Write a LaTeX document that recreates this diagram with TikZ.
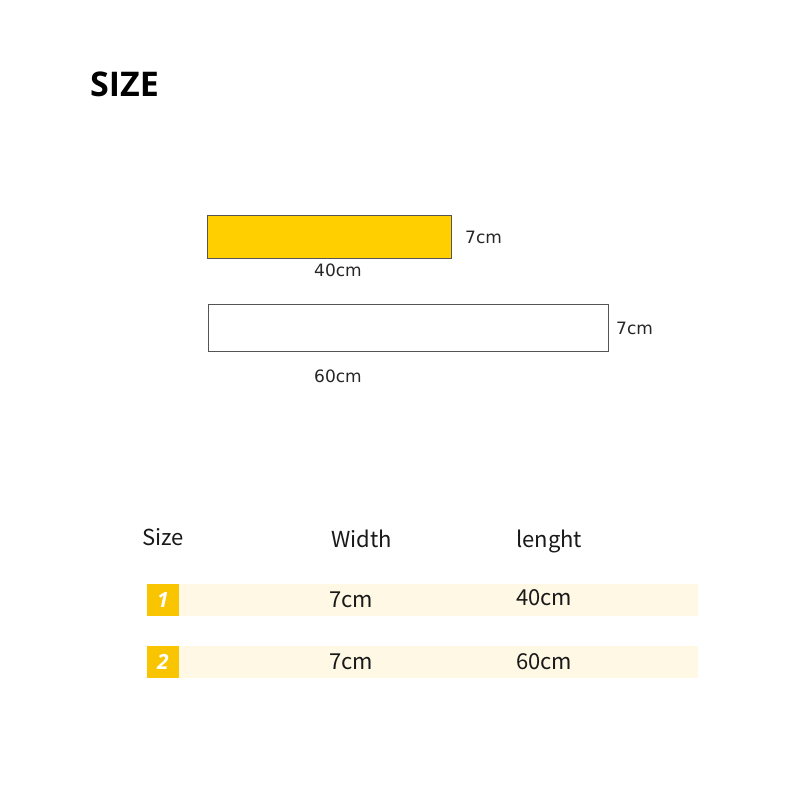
\documentclass[tikz,border=0pt]{standalone}
\usepackage{fontspec}
\setmainfont{Noto Sans CJK SC}
\newfontfamily\titlefont{Open Sans}
\newfontfamily\labelfont{DejaVu Sans}
\definecolor{barY}{HTML}{FFCF00}
\definecolor{badgeY}{HTML}{F9C400}
\definecolor{cream}{HTML}{FFF8E4}
\definecolor{edge}{HTML}{555555}
\begin{document}
\begin{tikzpicture}[x=1pt,y=-1pt,
  lbl/.style={font=\labelfont\fontsize{17}{19}\selectfont, text=black!85, inner sep=0pt},
  tbl/.style={font=\fontsize{22}{24}\selectfont, text=black!90, inner sep=0pt},
  badge/.style={fill=badgeY, minimum width=32pt, minimum height=32pt, inner sep=0pt, text=white, font=\titlefont\fontsize{21}{23}\selectfont\bfseries\itshape},
  band/.style={fill=cream, draw=none}]
\useasboundingbox (0,0) rectangle (800,800);
\fill[white] (0,0) rectangle (800,800);
\node[anchor=west, inner sep=0pt, font=\titlefont\fontsize{34}{40}\selectfont\bfseries] (title) at (90,84) {SIZE};
% rectangles
\draw[edge, fill=barY, line width=0.8pt] (207,215) rectangle (451,258);
\node[lbl, anchor=west] (h1) at (465,237) {7cm};
\node[lbl] (w1) at (338,270) {40cm};
\draw[edge, fill=white, line width=0.8pt] (208,304) rectangle (608,351);
\node[lbl, anchor=west] (h2) at (616,328) {7cm};
\node[lbl] (w2) at (338,376) {60cm};
% table header
\node[tbl, anchor=west] (hs) at (142,537) {Size};
\node[tbl, anchor=west] (hw) at (331,539) {Width};
\node[tbl, anchor=west] (hl) at (516,541) {lenght};
% rows
\fill[band] (147,584) rectangle (698,616);
\node[badge] (b1) at (163,600) {1};
\node[tbl, anchor=west] (r1w) at (329,600) {7cm};
\node[tbl, anchor=west] (r1l) at (516,598) {40cm};
\fill[band] (147,646) rectangle (698,678);
\node[badge] (b2) at (163,662) {2};
\node[tbl, anchor=west] (r2w) at (329,662) {7cm};
\node[tbl, anchor=west] (r2l) at (516,662) {60cm};
\end{tikzpicture}
\end{document}
